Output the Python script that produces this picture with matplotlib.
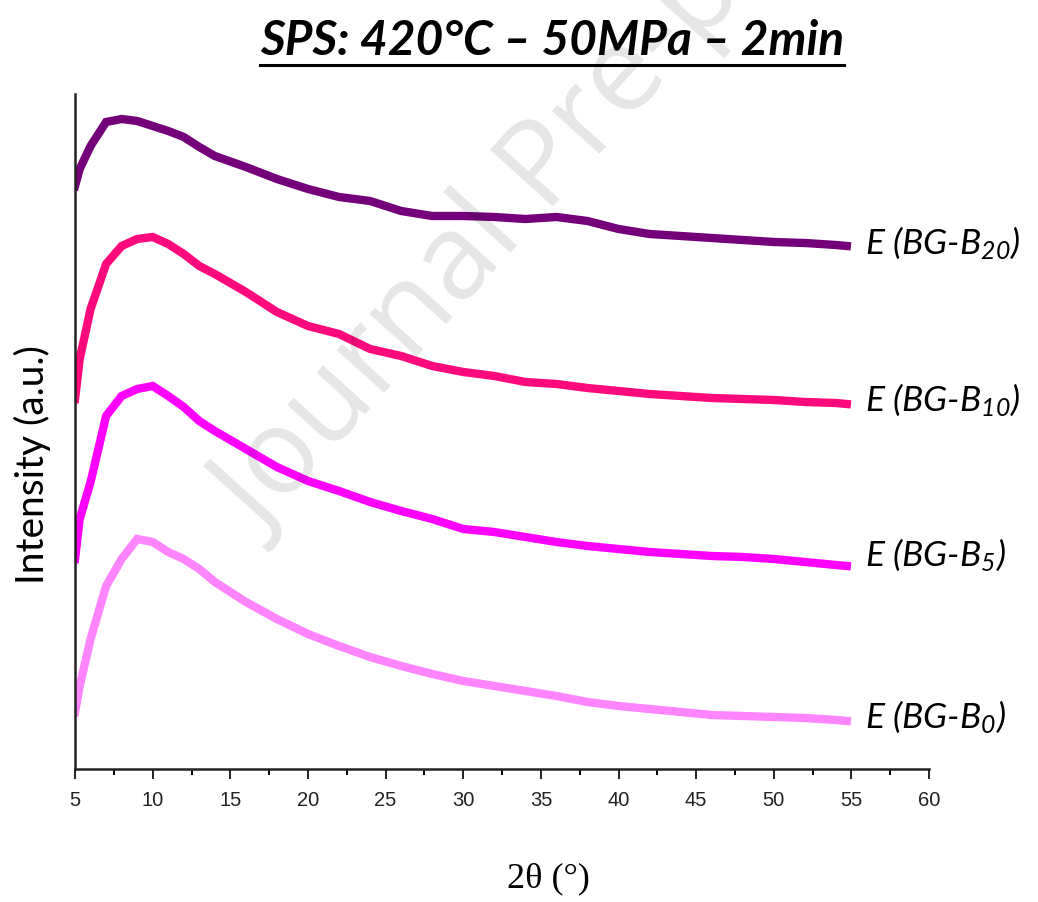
#!/usr/bin/env python3
# -*- coding: utf-8 -*-
"""XRD patterns of SPS-sintered E (BG-Bx) glasses, 420 C / 50 MPa / 2 min."""

import matplotlib

matplotlib.use("Agg")

import matplotlib.pyplot as plt
from matplotlib.lines import Line2D

# 2-theta positions (deg) where the traces were read
two_theta = [5, 5.3, 6, 7, 8, 9, 10, 11, 12, 13, 14, 16, 18, 20, 22, 24, 26,
             28, 30, 32, 34, 36, 38, 40, 42, 44, 46, 48, 50, 52, 54, 54.7]

# stacked intensities (a.u., offsets included)
int_b20 = [583, 600, 623, 647, 650, 648, 643, 638, 632, 622, 613, 602, 590,
           580, 572, 568, 558, 553, 553, 552, 550, 552, 548, 540, 535, 533,
           531, 529, 527, 526, 524, 523]
int_b10 = [370, 410, 460, 505, 523, 530, 532, 525, 515, 503, 495, 477, 457,
           443, 435, 420, 413, 403, 397, 393, 387, 385, 381, 378, 375, 373,
           371, 370, 369, 367, 366, 365]
int_b5 = [210, 250, 287, 353, 373, 380, 383, 373, 362, 348, 338, 320, 302,
          288, 278, 267, 258, 250, 240, 237, 232, 227, 223, 220, 217, 215,
          213, 212, 210, 207, 204, 203]
int_b0 = [57, 83, 130, 183, 210, 230, 227, 217, 210, 200, 187, 167, 150,
          135, 123, 112, 103, 95, 88, 83, 78, 73, 67, 63, 60, 57, 54, 53,
          52, 51, 49, 48]

series_names = ["20", "10", "5", "0"]
series_colors = ["#74007a", "#ff0a7c", "#ff00ff", "#ff85ff"]
label_heights = [527, 370, 215, 53]

x_ticks = [5, 10, 15, 20, 25, 30, 35, 40, 45, 50, 55, 60]


def main() -> None:
    plt.rcParams["mathtext.fontset"] = "custom"
    plt.rcParams["mathtext.rm"] = "Lato:italic"
    plt.rcParams["mathtext.it"] = "Lato:italic"

    fig = plt.figure(figsize=(10.38, 9.03), dpi=100)
    ax = fig.add_axes([0.0723, 0.1473, 0.8228, 0.7475])

    traces = [int_b20, int_b10, int_b5, int_b0]
    for values, color in zip(traces, series_colors):
        ax.plot(two_theta, values, color=color, linewidth=6.0,
                solid_joinstyle="miter")

    for name, color, yy in zip(series_names, series_colors, label_heights):
        ax.text(55.9, yy, "E (BG-B$_{%s}$)" % name, fontsize=25.5,
                family="Lato", style="italic", color="black",
                ha="left", va="center", clip_on=False)

    ax.set_xlim(5, 60)
    ax.set_ylim(0, 675)
    ax.set_xticks(x_ticks)
    ax.set_xticks([t + 2.5 for t in x_ticks[:-1]], minor=True)
    ax.set_yticks([])
    ax.tick_params(axis="x", which="major", direction="out", length=7,
                   width=1.4, pad=8, labelsize=14.5, colors="#222222")
    ax.tick_params(axis="x", which="minor", direction="out", length=4,
                   width=1.4)
    for lab in ax.get_xticklabels():
        lab.set_family(["Liberation Sans Narrow", "Liberation Sans"])
    for side in ("top", "right"):
        ax.spines[side].set_visible(False)
    for side in ("left", "bottom"):
        ax.spines[side].set_linewidth(1.8)
        ax.spines[side].set_color("#222222")

    fig.text(0.031, 0.485, "Intensity (a.u.)", rotation=90, fontsize=28,
             family="Lato", ha="center", va="center")
    fig.text(0.528, 0.027, "2\u03b8 (\u00b0)", fontsize=26,
             family="Liberation Serif", ha="center", va="center")

    title = fig.text(0.532, 0.955, "SPS: 420\u00b0C \u2013 50MPa \u2013 2min",
                     fontsize=34.5, family="Lato", weight="bold",
                     style="italic", ha="center", va="center")

    fig.text(0.253, 0.403, "Journal Pre-proof", rotation=48,
             rotation_mode="anchor", fontsize=86, family="Open Sans",
             color="black", alpha=0.1, ha="left", va="baseline", zorder=10)

    # underline the title
    fig.canvas.draw()
    bb = title.get_window_extent().transformed(fig.transFigure.inverted())
    fig.add_artist(Line2D([bb.x0, bb.x1], [bb.y0 - 0.004, bb.y0 - 0.004],
                          transform=fig.transFigure, color="black",
                          linewidth=2.2))

    fig.savefig("out.png", dpi=100)
    plt.close(fig)


if __name__ == "__main__":
    main()
